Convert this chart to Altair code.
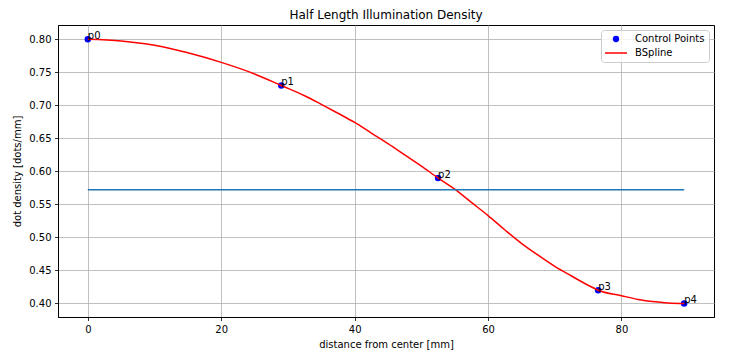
import altair as alt
import pandas as pd

# Control points
cp_x = [0.0, 29.0, 52.5, 76.5, 89.4]
cp_y = [0.800, 0.730, 0.590, 0.420, 0.400]
cp_labels = ["p0", "p1", "p2", "p3", "p4"]

# BSpline curve
curve_x = [0.0, 5.0, 10.0, 15.0, 20.0, 25.0, 29.0, 32.5, 35.0, 37.5, 40.0, 42.5,
           45.0, 47.5, 50.0, 52.5, 55.0, 57.5, 60.0, 62.5, 65.0, 67.5, 70.0, 72.5,
           75.0, 76.5, 80.0, 82.5, 85.0, 87.5, 89.4]
curve_y = [0.800, 0.7975, 0.791, 0.7795, 0.765, 0.7475, 0.730, 0.7145, 0.7015, 0.688,
           0.674, 0.658, 0.642, 0.625, 0.608, 0.590, 0.573, 0.553, 0.533, 0.5115,
           0.491, 0.473, 0.456, 0.4415, 0.4275, 0.420, 0.4117, 0.406, 0.4025, 0.4003, 0.400]

# Horizontal reference line
hline_x = [0.0, 89.4]
hline_y = [0.572, 0.572]

x_ticks = [0, 20, 40, 60, 80]
y_ticks = [0.40, 0.45, 0.50, 0.55, 0.60, 0.65, 0.70, 0.75, 0.80]

series_names = ["Control Points", "BSpline"]
series_colors = ["blue", "red"]

pts = pd.DataFrame({"x": cp_x, "y": cp_y, "label": cp_labels, "series": "Control Points"})
curve = pd.DataFrame({"x": curve_x, "y": curve_y, "series": "BSpline"})
hl = pd.DataFrame({"x": hline_x, "y": hline_y})

FONT = "DejaVu Sans"

xs = alt.Scale(domain=[-4.47, 93.87], nice=False, zero=False)
ys = alt.Scale(domain=[0.3794, 0.8216], nice=False, zero=False)

xenc = alt.X("x:Q", scale=xs, title="distance from center [mm]",
             axis=alt.Axis(values=x_ticks, format="d", titlePadding=5))
yenc = alt.Y("y:Q", scale=ys, title="dot density [dots/mm]",
             axis=alt.Axis(values=y_ticks, format=".2f", titlePadding=6))

sel = "datum.value === 'BSpline'"
legend = alt.Legend(
    orient="top-right", offset=5, title=None,
    fillColor="rgba(255,255,255,0.8)", strokeColor="#cccccc", cornerRadius=3,
    padding=4, labelFontSize=10, labelFont=FONT, labelColor="black",
    labelOffset=14, rowPadding=4, symbolOffset=6,
    symbolType={"expr": f"{sel} ? 'stroke' : 'circle'"},
    symbolSize={"expr": f"{sel} ? 484 : 40"},
    symbolStrokeWidth={"expr": f"{sel} ? 1.5 : 0"},
    symbolFillColor={"expr": f"{sel} ? 'transparent' : 'blue'"},
    symbolStrokeColor={"expr": f"{sel} ? 'red' : 'blue'"},
    symbolOpacity=1,
)
color = alt.Color("series:N", scale=alt.Scale(domain=series_names, range=series_colors),
                  legend=legend)

points = alt.Chart(pts).mark_circle(size=42, opacity=1).encode(x=xenc, y=yenc, color=color)
line = alt.Chart(curve).mark_line(strokeWidth=1.5, interpolate="monotone").encode(
    x=xenc, y=yenc, color=color, order="x:Q")
hline = alt.Chart(hl).mark_line(strokeWidth=1.5, color="#1f77b4").encode(x=xenc, y=yenc)
labels = alt.Chart(pts).mark_text(align="left", baseline="alphabetic", fontSize=10,
                                  font=FONT, color="black").encode(x=xenc, y=yenc, text="label:N")

chart = alt.layer(points, line, hline, labels).properties(
    width=656, height=292,
    title=alt.TitleParams("Half Length Illumination Density", fontSize=12, font=FONT,
                          fontWeight="normal", color="black", offset=3),
    padding={"left": 50, "top": 17, "right": 10, "bottom": 38},
    autosize=alt.AutoSizeParams(type="none"),
).configure_view(stroke="black", strokeWidth=1).configure_axis(
    labelFont=FONT, titleFont=FONT, labelFontSize=10, titleFontSize=10,
    labelColor="black", titleColor="black", titleFontWeight="normal",
    grid=True, gridColor="#b0b0b0", gridWidth=0.8, gridOpacity=1,
    domainColor="black", domainWidth=1, tickColor="black", tickSize=3.5, tickWidth=0.8,
    labelPadding=3.5,
)

chart.save("out.html", embed_options={"renderer": "svg", "actions": False})
